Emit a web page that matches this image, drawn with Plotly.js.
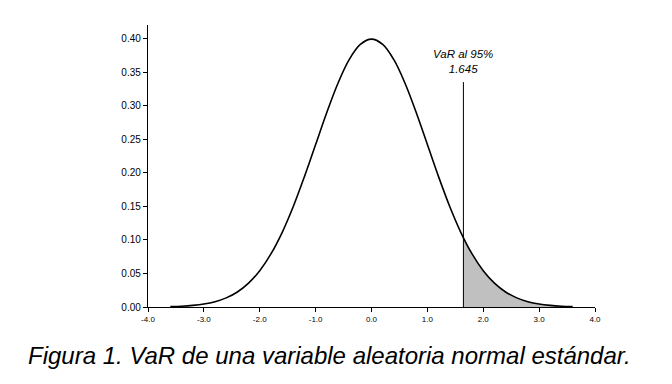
<!DOCTYPE html>
<html><head><meta charset="utf-8">
<script src="https://cdn.plot.ly/plotly-3.0.1.min.js"></script>
<style>body{margin:0;background:#fff}#c{width:672px;height:384px}</style>
</head><body><div id="c"></div>
<script>
// Density curve values
var xCurve = [-3.6,-3.4,-3.2,-3.0,-2.8,-2.6,-2.4,-2.2,-2.0,-1.8,-1.6,-1.4,-1.2,-1.0,-0.8,-0.6,-0.4,-0.2,0.0,0.2,0.4,0.6,0.8,1.0,1.2,1.4,1.6,1.8,2.0,2.2,2.4,2.6,2.8,3.0,3.2,3.4,3.6];
var yCurve = [0.0006,0.0012,0.0024,0.0044,0.0079,0.0136,0.0224,0.0355,0.0540,0.0790,0.1109,0.1497,0.1942,0.2420,0.2897,0.3332,0.3683,0.3910,0.3989,0.3910,0.3683,0.3332,0.2897,0.2420,0.1942,0.1497,0.1109,0.0790,0.0540,0.0355,0.0224,0.0136,0.0079,0.0044,0.0024,0.0012,0.0006];
// Shaded tail beyond VaR
var xTail = [1.645,1.8,2.0,2.2,2.4,2.6,2.8,3.0,3.2,3.4,3.6];
var yTail = [0.1031,0.0790,0.0540,0.0355,0.0224,0.0136,0.0079,0.0044,0.0024,0.0012,0.0006];
// VaR marker
var varX = [1.645,1.645];
var varY = [0,0.335];
var varLabel = "VaR al 95%<br>1.645";
var caption = "Figura 1. VaR de una variable aleatoria normal estándar.";
var xTicks = [-4,-3,-2,-1,0,1,2,3,4];
var xTickText = ["-4.0","-3.0","-2.0","-1.0","0.0","1.0","2.0","3.0","4.0"];
var yTicks = [0,0.05,0.10,0.15,0.20,0.25,0.30,0.35,0.40];

var traces = [
  {x: xTail, y: yTail, mode:'lines', line:{width:0, shape:'spline'}, fill:'tozeroy', fillcolor:'#c0c0c0', hoverinfo:'skip'},
  {x: xCurve, y: yCurve, mode:'lines', line:{color:'#000', width:1.6, shape:'spline'}},
  {x: varX, y: varY, mode:'lines', line:{color:'#000', width:1}}
];
var layout = {
  width:672, height:384,
  margin:{l:148, r:77, t:25, b:77},
  showlegend:false,
  paper_bgcolor:'#fff', plot_bgcolor:'#fff',
  font:{family:'Liberation Sans, Arial, sans-serif', color:'#000'},
  xaxis:{range:[-4,4], tickvals:xTicks, ticktext:xTickText, ticks:'outside', ticklen:4, tickcolor:'#000',
         showline:true, linecolor:'#000', linewidth:1.2, showgrid:false, zeroline:false, tickfont:{size:8}},
  yaxis:{range:[0,0.42], tickvals:yTicks, tickformat:'.2f', ticks:'outside', ticklen:4, tickcolor:'#000',
         showline:true, linecolor:'#000', linewidth:1.2, showgrid:false, zeroline:false, tickfont:{size:10}},
  annotations:[
    {x:1.645, y:0.335, xref:'x', yref:'y', text:varLabel, showarrow:false, yanchor:'bottom', yshift:5,
     font:{size:11.5, family:'Liberation Sans, Arial, sans-serif'}},
    {x:0.04, y:-0.18, xref:'paper', yref:'paper', xanchor:'left', yanchor:'middle', text:caption, showarrow:false,
     font:{size:24}}
  ]
};
layout.annotations[0].text = '<i>'+varLabel.replace('<br>','</i><br><i>')+'</i>';
layout.annotations[1].text = '<i>'+caption+'</i>';
layout.annotations[1].x = (26-148)/447;
layout.annotations[1].y = -(355-307)/282;
Plotly.newPlot('c', traces, layout, {displayModeBar:false, staticPlot:true});
</script></body></html>
